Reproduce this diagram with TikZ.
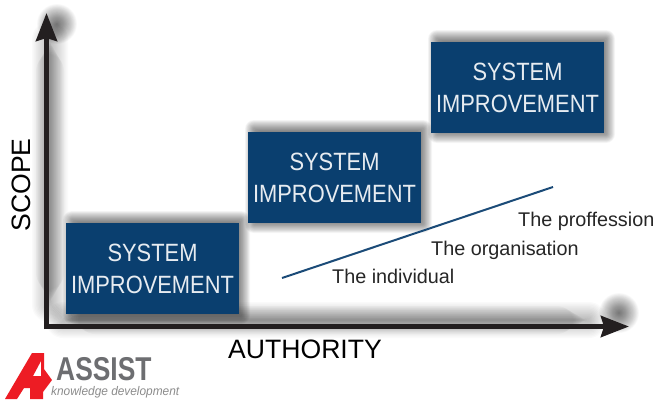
\documentclass[tikz,border=0pt]{standalone}
\usepackage{fontspec}
\usetikzlibrary{arrows.meta}
\setmainfont{Liberation Sans}
\newfontfamily\boxfont[FakeStretch=0.875]{Liberation Sans}
\newfontfamily\logofont[FakeStretch=0.8]{Liberation Sans}
\newfontfamily\tagfont[FakeStretch=0.95]{Liberation Sans}
\definecolor{boxblue}{HTML}{0A3F6F}
\definecolor{axisblack}{HTML}{231F20}
\definecolor{assistred}{HTML}{ED1C24}
\definecolor{assistgray}{HTML}{6D6E71}
\definecolor{linkblue}{HTML}{1B4B78}
% soft shadow: stack of translucent rectangles, shrinking towards the core
\newcommand{\softrect}[7]{% x1 y1 x2 y2 spread layers opacity
  \foreach \k in {0,...,#6}{
    \pgfmathsetmacro{\d}{#5*(1-2*\k/#6)}
    \pgfmathsetmacro{\r}{max(0.1,abs(\d)+1)}
    \fill[black,opacity=#7,rounded corners=\r pt]
      (#1-\d,#2-\d) rectangle (#3+\d,#4+\d);
  }}
\newcommand{\softdisc}[5]{% cx cy radius layers opacity
  \foreach \k in {1,...,#4}{
    \pgfmathsetmacro{\r}{#3*\k/#4}
    \fill[black,opacity=#5] (#1,#2) circle[radius=\r pt];
  }}
\tikzset{
  sysbox/.style={fill=boxblue,text=white!90!boxblue,minimum width=173pt,minimum height=91pt,
    inner sep=0pt,align=center,font=\boxfont\fontsize{25}{32}\selectfont},
  axisline/.style={line width=5pt,draw=axisblack,-{Stealth[length=28pt,width=21pt,inset=3pt]}},
  axislabel/.style={font=\fontsize{26.6}{30}\selectfont,text=black,inner sep=0pt},
  steplabel/.style={font=\fontsize{19.8}{24}\selectfont,text=black!85,inner sep=0pt,anchor=base west},
  link/.style={draw=linkblue,line width=2pt},
}
\begin{document}
\begin{tikzpicture}[x=1pt,y=-1pt]
\useasboundingbox (0,0) rectangle (656,399);
\fill[white] (0,0) rectangle (656,399);
% axis shadows
\softrect{48}{38}{52}{306}{16}{24}{0.018}
\softrect{62}{318}{590}{322}{16}{24}{0.018}
\softdisc{57}{24}{20}{34}{0.018}
\softdisc{619}{313}{20}{34}{0.018}
% box shadows
\softrect{71}{219}{242}{316}{8}{20}{0.04}
\softrect{253}{128}{424}{225}{8}{20}{0.04}
\softrect{436}{38}{607}{135}{8}{20}{0.04}
% axes
\coordinate (origin) at (46.5,326.5);
\coordinate (ytip) at (46.5,13);
\coordinate (xtip) at (629,326.5);
\draw[axisline] (46.5,329) -- (ytip);
\draw[axisline] (44,326.5) -- (xtip);
% boxes
\node[sysbox] (boxA) at (152.5,268.5) {SYSTEM\\IMPROVEMENT};
\node[sysbox] (boxB) at (334.5,177.5) {SYSTEM\\IMPROVEMENT};
\node[sysbox] (boxC) at (517.5,87.5) {SYSTEM\\IMPROVEMENT};
% labels
\node[axislabel,rotate=90] (scope) at (21,185) {SCOPE};
\node[axislabel] (authority) at (305,349.5) {AUTHORITY};
\coordinate (linkstart) at (282,278);
\coordinate (linkend) at (553,187);
\draw[link] (linkstart) -- (linkend);
\node[steplabel] (individual) at (332,283) {The individual};
\node[steplabel] (organisation) at (431,255) {The organisation};
\node[steplabel] (profession) at (518,226) {The proffession};
% logo
\fill[assistred,even odd rule]
  (5,399) -- (32,353) -- (44,353) -- (44,369) -- (52,380) -- (43,392) -- (43,399)
  -- (30,399) -- (30,388) -- (24,388) -- (17,399) -- cycle
  (41,361) -- (41,376) -- (33,376) -- cycle;
\node[inner sep=0pt,anchor=base west,text=assistgray,text depth=0pt,
  font=\logofont\bfseries\fontsize{33}{33}\selectfont] (assist) at (56,380) {ASSIST};
\node[inner sep=0pt,anchor=base west,text=black!45,text height=8pt,
  font=\tagfont\itshape\fontsize{12.5}{13}\selectfont] (tagline) at (51,395.5) {knowledge development};
\end{tikzpicture}
\end{document}
